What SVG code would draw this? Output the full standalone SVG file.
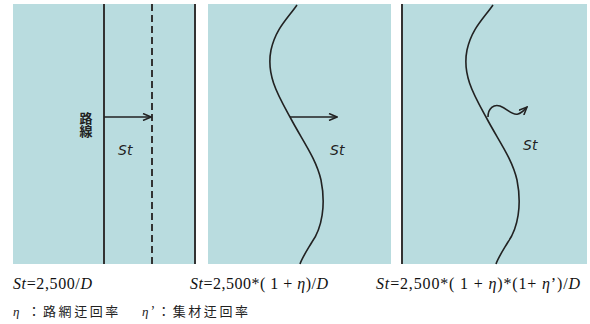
<svg xmlns="http://www.w3.org/2000/svg" width="590" height="324" viewBox="0 0 590 324">
<style>
.panel{fill:#b9dcdf}
.solid{stroke:#333;stroke-width:2;fill:none}
.dash{stroke:#333;stroke-width:2;fill:none;stroke-dasharray:7 4}
.curve{stroke:#222;stroke-width:1.6;fill:none}
.arr{stroke:#222;stroke-width:1.6;fill:none}
.lbl{font-family:"DejaVu Sans",sans-serif;font-style:italic;font-size:14px;fill:#222}
.f{font-family:"Liberation Serif","Noto Sans CJK JP",serif;font-size:16px;fill:#111}
.leg{font-family:"Noto Sans CJK JP",sans-serif;font-size:13px;fill:#222}
.v{font-family:"Noto Sans CJK JP",sans-serif;font-size:13px;font-weight:bold;fill:#222}
</style>
<defs>
<marker id="ah" markerWidth="10" markerHeight="8" refX="9" refY="4" orient="auto" markerUnits="userSpaceOnUse">
<path d="M1,0.5 L9,4 L1,7.5" fill="none" stroke="#222" stroke-width="1.5"/>
</marker>
</defs>
<g id="panel1">
<rect class="panel" x="13" y="4" width="183" height="260"/>
<line class="solid" x1="104" y1="4" x2="104" y2="264"/>
<line class="dash" x1="152" y1="4" x2="152" y2="264"/>
<line class="solid" x1="195" y1="4" x2="195" y2="264"/>
<line class="arr" x1="104" y1="117" x2="151" y2="117" marker-end="url(#ah)"/>
<text class="lbl" x="118" y="155">St</text>
<text class="v" x="86" y="112" writing-mode="tb">路線</text>
</g>
<g id="panel2">
<rect class="panel" x="208" y="4" width="183" height="260"/>
<path class="curve" d="M297,5 C288,18 276,28 271,50 C266,75 278,95 290,117 C302,140 316,158 321,180 C326,205 322,228 312,242 C306,252 302,258 300,264"/>
<line class="arr" x1="290" y1="117" x2="337" y2="117" marker-end="url(#ah)"/>
<text class="lbl" x="330" y="155">St</text>
</g>
<g id="panel3">
<rect class="panel" x="401" y="4" width="186" height="260"/>
<line class="solid" x1="402" y1="4" x2="402" y2="264"/>
<path class="curve" d="M493,5 C484,18 472,28 467,50 C462,75 474,95 486,117 C498,140 512,158 517,180 C522,205 518,228 508,242 C502,252 498,258 496,264"/>
<path class="arr" d="M488,117 C488,108 494,104 500,106 C508,109 512,116 518,114 C522,113 524,110 527,107" marker-end="url(#ah)"/>
<text class="lbl" x="523" y="150">St</text>
</g>
<g id="formulas">
<text class="f" x="13" y="289" textLength="79" lengthAdjust="spacing"><tspan font-style="italic">St</tspan>=2,500/<tspan font-style="italic">D</tspan></text>
<text class="f" x="190" y="289" textLength="138" lengthAdjust="spacing"><tspan font-style="italic">St</tspan>=2,500*( 1 + <tspan font-style="italic">η</tspan>)/<tspan font-style="italic">D</tspan></text>
<text class="f" x="376" y="289" textLength="204" lengthAdjust="spacing"><tspan font-style="italic">St</tspan>=2,500*( 1 + <tspan font-style="italic">η</tspan>)*(1+ <tspan font-style="italic">η</tspan>’)/<tspan font-style="italic">D</tspan></text>
<text class="leg" x="13" y="316" textLength="235" lengthAdjust="spacing"><tspan font-family="Liberation Serif,serif" font-style="italic">η</tspan> ：路網迂回率　 <tspan font-family="Liberation Serif,serif" font-style="italic">η</tspan>’：集材迂回率</text>
</g>
</svg>
